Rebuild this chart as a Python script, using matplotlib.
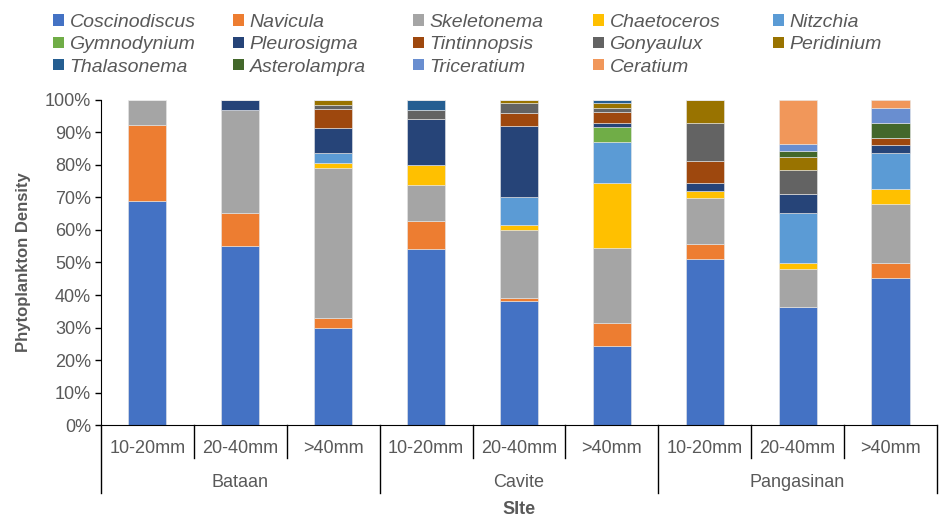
import numpy as np
import matplotlib
matplotlib.use("Agg")
import matplotlib.pyplot as plt
from matplotlib.patches import Patch

plt.rcParams['font.family'] = ['Liberation Sans', 'DejaVu Sans']

sites = ["Bataan", "Cavite", "Pangasinan"]
sizes = ["10-20mm", "20-40mm", ">40mm"]

species = ["Coscinodiscus", "Navicula", "Skeletonema", "Chaetoceros", "Nitzchia",
           "Gymnodynium", "Pleurosigma", "Tintinnopsis", "Gonyaulux", "Peridinium",
           "Thalasonema", "Asterolampra", "Triceratium", "Ceratium"]

colors = ["#4472C4", "#ED7D31", "#A5A5A5", "#FFC000", "#5B9BD5",
          "#70AD47", "#264478", "#9E480E", "#636363", "#997300",
          "#255E91", "#43682B", "#698ED0", "#F1975A"]

# percent of density, bars in order Bataan(3), Cavite(3), Pangasinan(3)
coscinodiscus = [69.0, 55.2, 29.9, 54.2, 38.2, 24.4, 51.2, 36.4, 45.3]
navicula      = [23.3, 9.9, 3.0, 8.5, 1.0, 6.9, 4.6, 0.0, 4.6]
skeletonema   = [7.7, 31.8, 46.3, 11.2, 20.9, 23.3, 13.9, 11.5, 18.2]
chaetoceros   = [0, 0, 1.4, 6.0, 1.5, 19.9, 2.4, 2.0, 4.6]
nitzchia      = [0, 0, 3.0, 0, 8.6, 12.7, 0, 15.3, 11.1]
gymnodynium   = [0, 0, 0, 0, 0, 4.4, 0, 0, 0]
pleurosigma   = [0, 3.1, 7.9, 14.4, 21.8, 1.4, 2.3, 5.9, 2.2]
tintinnopsis  = [0, 0, 5.6, 0, 3.9, 3.2, 6.7, 0, 2.4]
gonyaulux     = [0, 0, 1.4, 2.5, 3.3, 1.3, 11.8, 7.5, 0]
peridinium    = [0, 0, 1.5, 0, 0.8, 1.5, 7.1, 4.0, 0]
thalasonema   = [0, 0, 0, 3.2, 0, 1.0, 0, 0, 0]
asterolampra  = [0, 0, 0, 0, 0, 0, 0, 1.8, 4.5]
triceratium   = [0, 0, 0, 0, 0, 0, 0, 2.1, 4.5]
ceratium      = [0, 0, 0, 0, 0, 0, 0, 13.5, 2.6]

values = [coscinodiscus, navicula, skeletonema, chaetoceros, nitzchia,
          gymnodynium, pleurosigma, tintinnopsis, gonyaulux, peridinium,
          thalasonema, asterolampra, triceratium, ceratium]

text_col = "#595959"

fig = plt.figure(figsize=(9.41, 5.18), dpi=100)
ax = fig.add_axes([0.1073, 0.1795, 0.8884, 0.6275])

x = np.arange(len(coscinodiscus))
bottom = np.zeros(len(x))
for name, col, vals in zip(species, colors, values):
    vals = np.array(vals)
    ax.bar(x, vals, 0.41, bottom=bottom, color=col, edgecolor="#e8e8e8",
           linewidth=0.4, label=name)
    bottom += vals

ax.set_xlim(-0.5, 8.5)
ax.set_ylim(0, 100)
ax.set_yticks(np.arange(0, 101, 10))
ax.set_yticklabels([f"{v}%" for v in range(0, 101, 10)], color=text_col, fontsize=13)
ax.tick_params(axis="y", length=4, width=1, color="black", pad=3)
ax.set_xticks([])
for s in ["top", "right"]:
    ax.spines[s].set_visible(False)
ax.spines["left"].set_color("black")
ax.spines["bottom"].set_color("black")
ax.set_ylabel("Phytoplankton Density", fontsize=12, fontweight="bold",
              color=text_col, labelpad=10)

# multi-level category axis
h = 325.0
trans = ax.get_xaxis_transform()
for i, xi in enumerate(x):
    ax.text(xi, -23 / h, sizes[i % 3], transform=trans, ha="center", va="center",
            fontsize=13, color=text_col)
for g, site in enumerate(sites):
    ax.text(g * 3 + 1, -57 / h, site, transform=trans, ha="center", va="center",
            fontsize=13, color=text_col)
for b in np.arange(-0.5, 9, 1.0):
    long = (b + 0.5) % 3 == 0
    y1 = -68 / h if long else -33 / h
    ax.plot([b, b], [0, y1], transform=trans, color="black", lw=1, clip_on=False)
ax.text(4, -84 / h, "SIte", transform=trans, ha="center", va="center",
        fontsize=13, fontweight="bold", color=text_col)

# legend: five columns filled row by row
handles = [Patch(facecolor=c, label=n) for n, c in zip(species, colors)]
col_x = [53, 233, 413, 593, 773]
for c in range(5):
    idx = list(range(c, 14, 5))
    leg = fig.legend([handles[i] for i in idx], [species[i] for i in idx],
                     loc="upper left", bbox_to_anchor=(col_x[c] / 941, 1 - 14 / 518),
                     frameon=False, borderpad=0, borderaxespad=0,
                     handlelength=0.55, handleheight=0.55,
                     handletextpad=0.3, labelspacing=0.27,
                     prop={"size": 14, "style": "italic"})
    for t in leg.get_texts():
        t.set_color(text_col)

fig.savefig("out.png", dpi=100)
